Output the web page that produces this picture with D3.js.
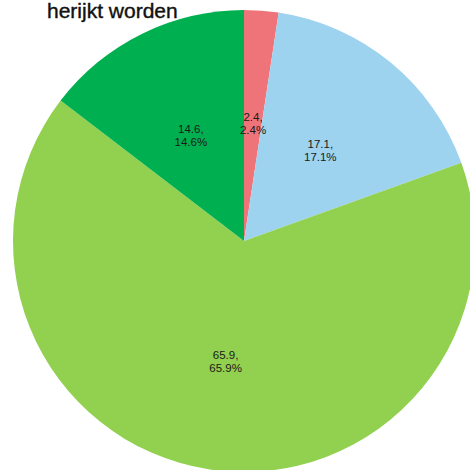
<!DOCTYPE html>
<html><head><meta charset="utf-8">
<script src="https://cdn.jsdelivr.net/npm/d3@7"></script>
<style>body{margin:0;background:#fff}svg{display:block}</style>
</head><body>
<script>
const categories = ["A", "B", "C", "D"];
const values = [2.4, 17.1, 65.9, 14.6];
const colors = ["#ee7479", "#9dd3ee", "#92d050", "#00b050"];
const title = "herijkt worden";

const W = 470, H = 470;
const cx = 244, cy = 241, R = 231;
const svg = d3.select("body").append("svg").attr("width", W).attr("height", H);

const pie = d3.pie().sort(null).value(d => d.v);
const data = pie(values.map((v, i) => ({v, c: colors[i], k: categories[i]})));
const arc = d3.arc().innerRadius(0).outerRadius(R);
const labelArc = d3.arc().innerRadius(R * 0.52).outerRadius(R * 0.52);
const total = d3.sum(values);

const g = svg.append("g").attr("transform", `translate(${cx},${cy})`);
g.selectAll("path").data(data).join("path")
  .attr("d", arc).attr("fill", d => d.data.c);

const lbl = g.selectAll("text").data(data).join("text")
  .attr("transform", d => `translate(${labelArc.centroid(d)})`)
  .attr("text-anchor", "middle")
  .attr("font-family", "Liberation Sans, Arial, sans-serif")
  .attr("font-size", 11.5).attr("fill", "#1a1a1a");
lbl.append("tspan").attr("x", 0).attr("dy", "-0.05em").text(d => d.data.v.toFixed(1) + ",");
lbl.append("tspan").attr("x", 0).attr("dy", "1.15em").text(d => (d.data.v / total * 100).toFixed(1) + "%");

svg.append("text").attr("x", 47).attr("y", 18)
  .attr("font-family", "Liberation Sans, Arial, sans-serif")
  .attr("font-size", 21).attr("fill", "#111")
  .attr("stroke", "#111").attr("stroke-width", 0.4).text(title);
</script>
</body></html>
